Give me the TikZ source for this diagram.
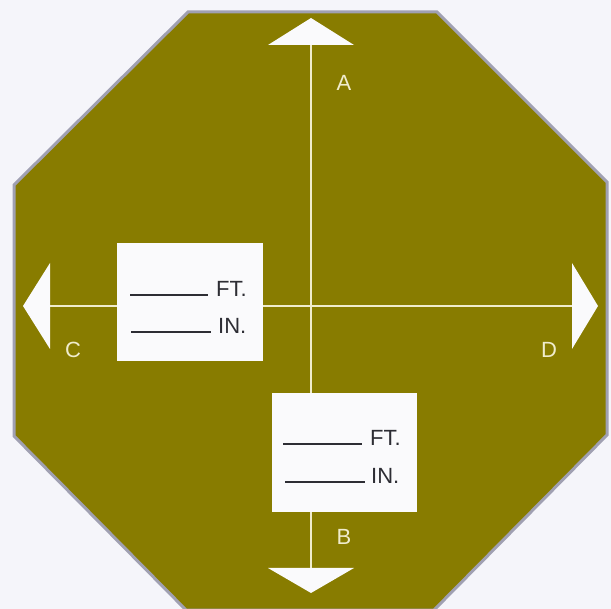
\documentclass[tikz,border=0pt]{standalone}
\usepackage{fontspec}
\setmainfont{Liberation Sans}
\definecolor{bgc}{RGB}{245,245,250}
\definecolor{olive}{RGB}{136,124,0}
\definecolor{rim}{RGB}{160,160,178}
\definecolor{cream}{RGB}{240,236,205}
\definecolor{boxw}{RGB}{250,250,252}
\definecolor{ink}{RGB}{45,45,52}
\tikzset{
  axis/.style={draw=cream, line width=2pt},
  head/.style={fill=boxw, draw=none},
  label/.style={text=cream, font=\fontsize{22}{22}\selectfont, inner sep=0pt},
  blankbox/.style={fill=boxw, draw=none, inner sep=0pt, anchor=north west},
  blank/.style={draw=ink, line width=2.2pt},
  unit/.style={text=ink, font=\fontsize{22}{22}\selectfont, inner sep=0pt, anchor=west}
}
\begin{document}
\begin{tikzpicture}[x=1pt,y=-1pt]
\useasboundingbox (0,0) rectangle (611,609);
\fill[bgc] (0,0) rectangle (611,609);
% octagon
\filldraw[fill=olive, draw=rim, line width=3pt, line join=miter]
  (188,12) -- (437,12) -- (607,182) -- (607,435) -- (434,610) -- (186,610) -- (14,436) -- (14,185) -- cycle;
% arrow base coordinates
\coordinate (Abase) at (311,45);
\coordinate (Bbase) at (311,568);
\coordinate (Cbase) at (50,306);
\coordinate (Dbase) at (572,306);
% axes
\draw[axis] (Cbase) -- (Dbase);
% boxes
\node[blankbox, minimum width=146pt, minimum height=118pt] (boxC) at (117,243) {};
\node[blankbox, minimum width=145pt, minimum height=119pt] (boxB) at (272,393) {};
\draw[axis] (Abase) -- (Abase |- boxB.north);
\draw[axis] (Bbase |- boxB.south) -- (Bbase);
% arrow heads
\fill[head] (311,18) -- (268,45) -- (354,45) -- cycle;
\fill[head] (311,593) -- (268,568) -- (354,568) -- cycle;
\fill[head] (23,306) -- (50,263) -- (50,349) -- cycle;
\fill[head] (598,306) -- (572,263) -- (572,349) -- cycle;
% labels
\node[label] (A) at (344,83) {A};
\node[label] (B) at (344,537) {B};
\node[label] (C) at (73,350) {C};
\node[label] (D) at (549,350) {D};
% box C contents
\draw[blank] (130,295) -- (208,295);
\node[unit] (cft) at (216,289) {FT.};
\draw[blank] (131,332) -- (211,332);
\node[unit] (cin) at (218,326) {IN.};
% box B contents
\draw[blank] (283,444) -- (362,444);
\node[unit] (bft) at (370,438) {FT.};
\draw[blank] (285,482) -- (365,482);
\node[unit] (bin) at (371,476) {IN.};
\end{tikzpicture}
\end{document}
